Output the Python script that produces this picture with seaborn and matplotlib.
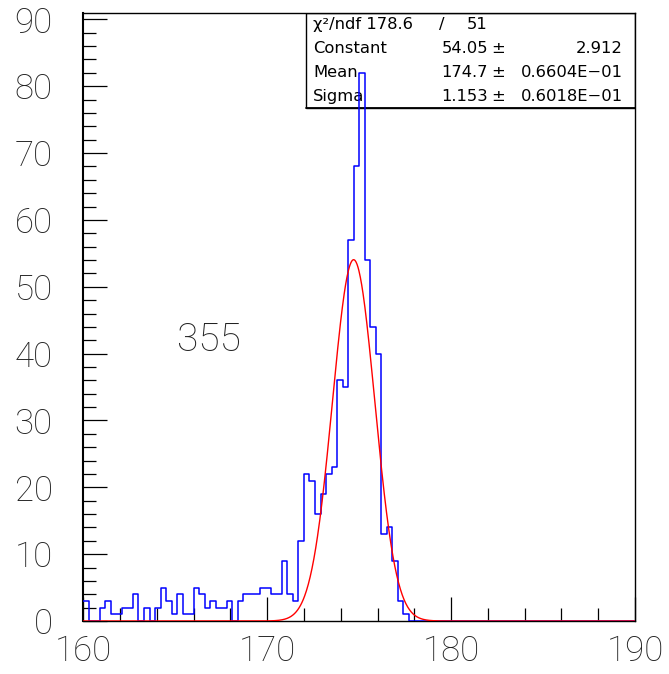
import numpy as np
import pandas as pd
import matplotlib
matplotlib.use("Agg")
import matplotlib.pyplot as plt
import seaborn as sns
from matplotlib.patches import Rectangle
from matplotlib.ticker import MultipleLocator

# ---------------- data ----------------
x_min, x_max, n_bins = 160.0, 190.0, 100
counts = [3, 0, 0, 2, 3, 1, 1, 2, 2, 4,
          0, 2, 0, 2, 5, 3, 1, 4, 1, 1,
          5, 4, 2, 3, 2, 2, 3, 0, 3, 4,
          4, 4, 5, 5, 4, 4, 9, 4, 3, 12,
          22, 21, 16, 19, 22, 23, 36, 35, 57, 68,
          82, 54, 44, 40, 13, 14, 9, 3, 1, 0,
          0, 0, 0, 0, 0, 0, 0, 0, 0, 0,
          0, 0, 0, 0, 0, 0, 0, 0, 0, 0,
          0, 0, 0, 0, 0, 0, 0, 0, 0, 0,
          0, 0, 0, 0, 0, 0, 0, 0, 0, 0]
fit_constant = 54.05
fit_mean = 174.7
fit_sigma = 1.153
x_ticks = [160, 170, 180, 190]
y_ticks = [0, 10, 20, 30, 40, 50, 60, 70, 80, 90]
label_text = "355"
stats_rows = [
    ("χ²/ndf 178.6", "/", "51", None),
    ("Constant", "54.05", "±", "2.912"),
    ("Mean", "174.7", "±", "0.6604E−01"),
    ("Sigma", "1.153", "±", "0.6018E−01"),
]

edges = np.linspace(x_min, x_max, n_bins + 1)
centers = 0.5 * (edges[:-1] + edges[1:])
df = pd.DataFrame({"x": centers, "w": counts})

fx = np.linspace(x_min, x_max, 1200)
fit_df = pd.DataFrame({"x": fx,
                       "y": fit_constant * np.exp(-0.5 * ((fx - fit_mean) / fit_sigma) ** 2)})

# ---------------- style ----------------
sns.set_style("white")
plt.rcParams["font.family"] = ["Roboto", "DejaVu Sans"]
plt.rcParams["font.weight"] = "light"

fig = plt.figure(figsize=(6.69, 6.74), dpi=100)
ax = fig.add_axes([83.3 / 669, 53 / 674, 551.7 / 669, 608.3 / 674])

# stats box (under the histogram)
bx0 = (306 - 83.3) / 551.7
by0 = (621 - 108.3) / 608.3
ax.add_patch(Rectangle((bx0, by0), 1 - bx0, 1 - by0, transform=ax.transAxes,
                       facecolor="white", edgecolor="black", lw=1.0, zorder=1))
ax.plot([bx0, 1.0], [by0, by0], transform=ax.transAxes, color="black", lw=1.3, zorder=1.05)

row_h = (1 - by0) / 4
box_font = dict(fontsize=11.8, family=["DejaVu Sans"], fontweight="normal", color="black",
                zorder=1.1, transform=ax.transAxes, va="center")
for i, (a, b, c, d) in enumerate(stats_rows):
    yc = 1 - row_h * (i + 0.5)
    ax.text((313 - 83.3) / 551.7, yc, a, ha="left", **box_font)
    if d is None:
        ax.text((442 - 83.3) / 551.7, yc, b, ha="center", **box_font)
        ax.text((487 - 83.3) / 551.7, yc, c, ha="right", **box_font)
    else:
        ax.text((488 - 83.3) / 551.7, yc, b, ha="right", **box_font)
        ax.text((498 - 83.3) / 551.7, yc, c, ha="center", **box_font)
        ax.text((623 - 83.3) / 551.7, yc, d, ha="right", **box_font)

# histogram
sns.histplot(data=df, x="x", weights="w", bins=n_bins, binrange=(x_min, x_max),
             element="step", fill=False, color="#0000ff", linewidth=1.1, ax=ax, zorder=3)
# fitted gaussian
sns.lineplot(data=fit_df, x="x", y="y", color="#ff0000", linewidth=1.0, ax=ax, zorder=4)

ax.text(166.84, 42.0, label_text, ha="center", va="center", fontsize=28, fontweight="light",
        color="#222222")

ax.set_xlim(x_min, x_max)
ax.set_ylim(0, 91)
ax.set_xticks(x_ticks)
ax.set_yticks(y_ticks)
ax.set_xticklabels([str(t) for t in x_ticks])
ax.set_yticklabels([str(t) for t in y_ticks])
ax.xaxis.set_minor_locator(MultipleLocator(2))
ax.yaxis.set_minor_locator(MultipleLocator(2))
ax.tick_params(axis="both", which="major", direction="in", length=17.5, width=0.9,
               color="black", labelsize=25, labelcolor="#222222")
ax.tick_params(axis="both", which="minor", direction="in", length=9.1, width=0.9, color="black")
ax.tick_params(axis="x", which="major", pad=10)
ax.tick_params(axis="y", which="major", pad=22)
ax.tick_params(top=False, right=False, bottom=True, left=True, which="both")
for lab in ax.get_xticklabels() + ax.get_yticklabels():
    lab.set_fontweight("light")
ax.set_xlabel("")
ax.set_ylabel("")
for s in ax.spines.values():
    s.set_visible(True)
    s.set_color("black")
    s.set_linewidth(1.0)
ax.spines["left"].set_linewidth(1.5)
ax.grid(False)

fig.savefig("out.png", dpi=100)
